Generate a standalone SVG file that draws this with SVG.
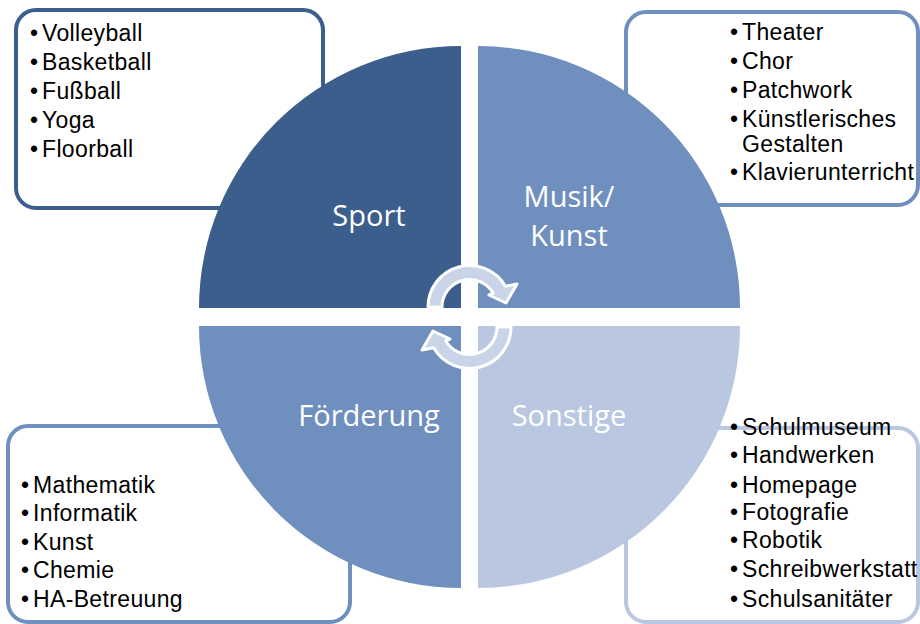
<svg xmlns="http://www.w3.org/2000/svg" width="920" height="624" viewBox="0 0 920 624">
<style>
.box{fill:#fff;stroke-width:4}
.item{font-family:"Liberation Sans",Arial,sans-serif;font-size:23px;letter-spacing:0.35px;fill:#000}
.lbl{font-family:"Open Sans","DejaVu Sans",sans-serif;font-size:29px;fill:#fff;text-anchor:middle}
.arr{fill:#C9D4E9;stroke:#fff;stroke-width:3;stroke-linejoin:round}
</style>
<defs>
<path id="arrowShape" d="M428,307 A41.5,41.5 0 0 1 505.4,286.25 L517,284 L506,303 L489,295 L493.3,293.25 A27.5,27.5 0 0 0 442,307 Z"/>
</defs>
<rect width="920" height="624" fill="#fff"/>
<g id="box-sport-list"><rect class="box" x="16" y="10" width="307" height="198" rx="20" stroke="#3B5E8C"/></g>
<g id="box-musik-list"><rect class="box" x="626" y="12" width="292" height="193" rx="20" stroke="#6F8FBF"/></g>
<g id="box-foerderung-list"><rect class="box" x="8" y="426" width="342" height="196" rx="20" stroke="#6F8FBF"/></g>
<g id="box-sonstige-list"><rect class="box" x="626" y="428" width="292" height="194" rx="20" stroke="#B9C7E0"/></g>
<g id="sport"><path d="M461,308 L199,308 A262,262 0 0 1 461,46 Z" fill="#3B5E8C"/><text class="lbl" x="369" y="226">Sport</text></g>
<g id="musik"><path d="M478,308 L478,46 A262,262 0 0 1 740,308 Z" fill="#6F8FBF"/><text class="lbl" x="569" y="207">Musik/</text><text class="lbl" x="569" y="246">Kunst</text></g>
<g id="foerderung"><path d="M461,326 L461,588 A262,262 0 0 1 199,326 Z" fill="#6F8FBF"/><text class="lbl" x="369" y="426">Förderung</text></g>
<g id="sonstige"><path d="M478,326 L740,326 A262,262 0 0 1 478,588 Z" fill="#B9C7E0"/><text class="lbl" x="569" y="426">Sonstige</text></g>
<g id="connectors">
<use href="#arrowShape" class="arr"/>
<use href="#arrowShape" class="arr" transform="rotate(180 469.5 317)"/>
</g>
<g id="sport-items">
<text class="item" x="30" y="41">•</text><text class="item" x="42" y="41">Volleyball</text>
<text class="item" x="30" y="70">•</text><text class="item" x="42" y="70">Basketball</text>
<text class="item" x="30" y="99">•</text><text class="item" x="42" y="99">Fußball</text>
<text class="item" x="30" y="128">•</text><text class="item" x="42" y="128">Yoga</text>
<text class="item" x="30" y="157">•</text><text class="item" x="42" y="157">Floorball</text>
</g>
<g id="musik-items">
<text class="item" x="730" y="40">•</text><text class="item" x="742" y="40">Theater</text>
<text class="item" x="730" y="69">•</text><text class="item" x="742" y="69">Chor</text>
<text class="item" x="730" y="98">•</text><text class="item" x="742" y="98">Patchwork</text>
<text class="item" x="730" y="127">•</text><text class="item" x="742" y="127">Künstlerisches</text>
<text class="item" x="742" y="152">Gestalten</text>
<text class="item" x="730" y="180">•</text><text class="item" x="742" y="180">Klavierunterricht</text>
</g>
<g id="foerderung-items">
<text class="item" x="21" y="493">•</text><text class="item" x="33" y="493">Mathematik</text>
<text class="item" x="21" y="521">•</text><text class="item" x="33" y="521">Informatik</text>
<text class="item" x="21" y="550">•</text><text class="item" x="33" y="550">Kunst</text>
<text class="item" x="21" y="578">•</text><text class="item" x="33" y="578">Chemie</text>
<text class="item" x="21" y="607">•</text><text class="item" x="33" y="607">HA-Betreuung</text>
</g>
<g id="sonstige-items">
<text class="item" x="730" y="435">•</text><text class="item" x="742" y="435">Schulmuseum</text>
<text class="item" x="730" y="463">•</text><text class="item" x="742" y="463">Handwerken</text>
<text class="item" x="730" y="493">•</text><text class="item" x="742" y="493">Homepage</text>
<text class="item" x="730" y="520">•</text><text class="item" x="742" y="520">Fotografie</text>
<text class="item" x="730" y="548">•</text><text class="item" x="742" y="548">Robotik</text>
<text class="item" x="730" y="577">•</text><text class="item" x="742" y="577">Schreibwerkstatt</text>
<text class="item" x="730" y="607">•</text><text class="item" x="742" y="607">Schulsanitäter</text>
</g>
</svg>
